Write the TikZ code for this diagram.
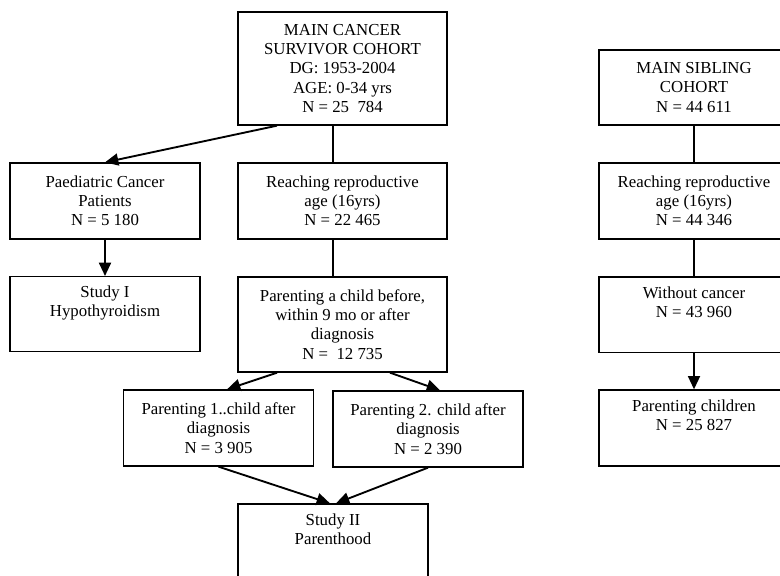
\documentclass[tikz,border=0pt]{standalone}
\usepackage{fontspec}
\setmainfont{Liberation Serif}
\usepackage{tikz}
\usetikzlibrary {arrows.meta}

\begin{document}
\begin{tikzpicture} [x = 0.75pt, y = -0.75pt]
        %style
        \tikzset{box/.style = {shape=rectangle, draw, line width=1pt, align=center, inner sep=1pt, minimum width = 142.5pt, minimum height = 57pt, font=\fontsize{12.6}{14.4}\selectfont}}
        \tikzset{wide/.style = {box, minimum width = 156.75pt}}
        \tikzset{link/.style = {line width=1.4pt}}
        \tikzset{arrow/.style = {link, -{Triangle[length=10pt, width=9pt]}}}
        \useasboundingbox (0,0) rectangle (780,575);
        % cancer survivors
        \node[wide, minimum height = 84.75pt] (main)   at (342.5,68.5)  {MAIN CANCER\\SURVIVOR COHORT\\DG: 1953-2004\\AGE: 0-34 yrs\\N = 25\ \ 784};
        \node[box]                            (paed)   at (105,201)     {Paediatric Cancer\\Patients\\N = 5 180};
        \node[wide]                           (repro)  at (342.5,201)   {Reaching reproductive\\age (16yrs)\\N = 22 465};
        \node[box, minimum height = 56pt]     (study1) at (105,314)     {Study I\\Hypothyroidism\\\strut};
        \node[wide, minimum height = 71.25pt] (parent) at (342.5,324.5) {Parenting a child before,\\within 9 mo or after\\diagnosis\\N = \ 12 735};
        \node[box]                            (first)  at (218.5,428)   {Parenting 1..child after\\diagnosis\\N = 3 905};
        \node[box]                            (second) at (428,429)     {Parenting 2. child after\\diagnosis\\N = 2 390};
        \node[box]                            (study2) at (333,542)     {Study II\\Parenthood\\\strut};
        % siblings
        \node[box, minimum height = 56.25pt]  (sib)      at (694,87.5)  {MAIN SIBLING\\COHORT\\N = 44 611};
        \node[box]                            (sibrepro) at (694,201)   {Reaching reproductive\\age (16yrs)\\N = 44 346};
        \node[box, minimum height = 56.5pt]   (nocancer) at (694,314.5) {Without cancer\\N = 43 960\\\strut};
        \node[box]                            (children) at (694,428)   {Parenting children\\N = 25 827\\\strut};
        \draw [arrow] ([xshift=-49.1pt]main.south) to (paed.north);
        \draw [link]  ([xshift=-7.1pt]main.south) to ([xshift=-7.1pt]repro.north);
        \draw [arrow] (paed) to (study1);
        \draw [link]  ([xshift=-7.1pt]repro.south) to ([xshift=-7.1pt]parent.north);
        \draw [arrow] ([xshift=-49.1pt]parent.south) to ([xshift=6.4pt]first.north);
        \draw [arrow] ([xshift=35.6pt]parent.south) to ([xshift=9pt]second.north);
        \draw [arrow] (first.south) to ([xshift=-2.25pt]study2.north);
        \draw [arrow] (second.south) to ([xshift=2.25pt]study2.north);
        \draw [link]  (sib) to (sibrepro);
        \draw [link]  (sibrepro) to (nocancer);
        \draw [arrow] (nocancer) to (children);
\end{tikzpicture}
\end{document}
